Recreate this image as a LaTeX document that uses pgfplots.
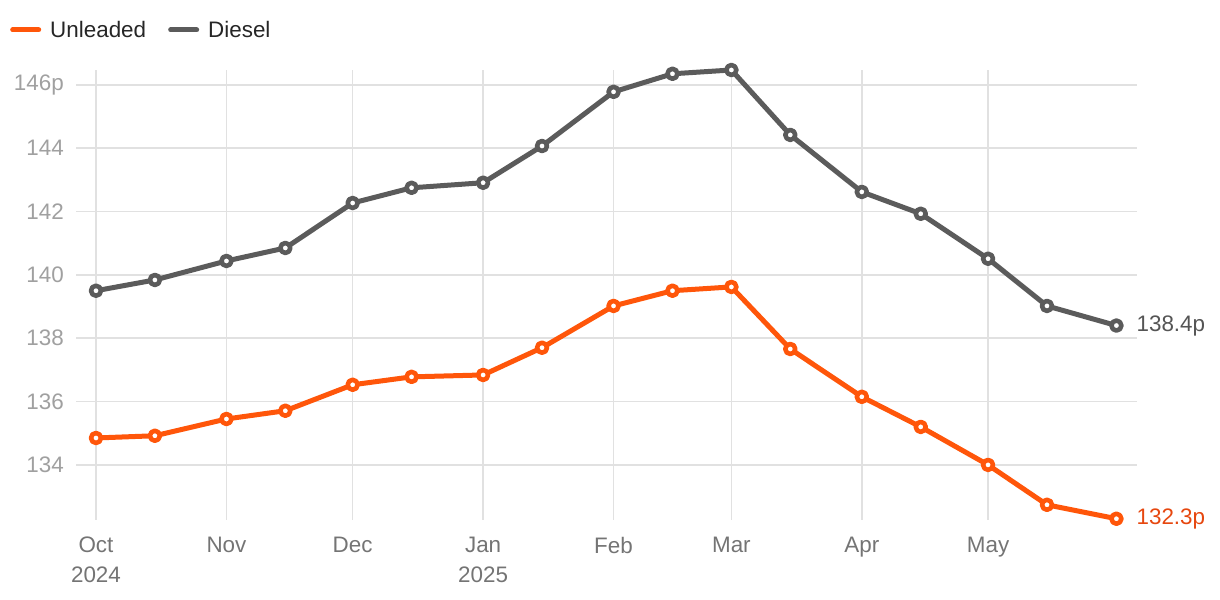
\documentclass[border=0pt]{standalone}
\usepackage{fontspec}
\setmainfont{Liberation Sans}
\usepackage{pgfplots}
\pgfplotsset{compat=1.18}
\definecolor{unl}{HTML}{FF560A}
\definecolor{unllab}{HTML}{E6470F}
\definecolor{dsl}{HTML}{5B5B5B}
\definecolor{dsllab}{HTML}{555555}
\definecolor{gridc}{HTML}{E1E1E1}
\definecolor{ylab}{HTML}{A0A0A0}
\definecolor{xlab}{HTML}{747474}
\begin{document}
\begin{tikzpicture}
\useasboundingbox (0,0) rectangle (1220bp,600bp);
\begin{axis}[
  at={(76bp,80bp)}, anchor=south west,
  scale only axis, width=1061bp, height=450bp,
  xmin=-4.75, xmax=247.4, ymin=132.26, ymax=146.47,
  axis line style={draw=none},
  tick style={draw=none}, major tick length=0pt,
  xtick={0,31,61,92,123,151,182,212},
  xticklabels={{Oct\\2024},Nov,Dec,{Jan\\2025},Feb,Mar,Apr,May},
  xticklabel style={align=center, font=\fontsize{22.5}{30}\selectfont, text=xlab, anchor=north, inner sep=0pt, yshift=-17bp},
  ytick={134,136,138,140,142,144,146},
  yticklabels={134,136,138,140,142,144,146p},
  yticklabel style={font=\fontsize{22.5}{25}\selectfont, text=ylab, anchor=east, inner sep=0pt, xshift=-12bp},
  xmajorgrids, ymajorgrids,
  grid style={color=gridc, line width=1.6bp},
  clip=false,
  legend columns=2,
  legend style={at={(axis description cs:-0.0622,1.089)}, anchor=west, draw=none, fill=none, inner sep=0pt,
    font=\fontsize{22.5}{25}\selectfont, text=black!85,
    nodes={inner xsep=0pt},
    /tikz/every even column/.append style={column sep=22bp}},
  legend image code/.code={\draw[#1, mark=none, line width=5bp, line cap=round] (2bp,0bp) -- (28bp,0bp); \path (37bp,0bp);},
  every axis plot/.append style={line width=5bp, line join=round, mark=*, mark size=5bp},
]
\addplot[color=unl, mark options={fill=white, draw=unl, line width=4.6bp}] coordinates {
(0,134.85) (14,134.92) (31,135.45) (45,135.71) (61,136.53) (75,136.78) (92,136.84) (106,137.70)
(123,139.02) (137,139.50) (151,139.62) (165,137.66) (182,136.15) (196,135.20) (212,134.00) (226,132.74) (242.5,132.30)
};
\addlegendentry{Unleaded}
\addplot[color=dsl, mark options={fill=white, draw=dsl, line width=4.6bp}] coordinates {
(0,139.50) (14,139.84) (31,140.44) (45,140.85) (61,142.27) (75,142.75) (92,142.91) (106,144.07)
(123,145.78) (137,146.35) (151,146.47) (165,144.42) (182,142.62) (196,141.93) (212,140.51) (226,139.02) (242.5,138.40)
};
\addlegendentry{Diesel}
\node[anchor=west, inner sep=0pt, xshift=20bp, text=dsllab, font=\fontsize{22.5}{25}\selectfont] at (axis cs:242.5,138.40) {138.4p};
\node[anchor=west, inner sep=0pt, xshift=20bp, text=unllab, font=\fontsize{22.5}{25}\selectfont] at (axis cs:242.5,132.30) {132.3p};
\end{axis}
\end{tikzpicture}
\end{document}
